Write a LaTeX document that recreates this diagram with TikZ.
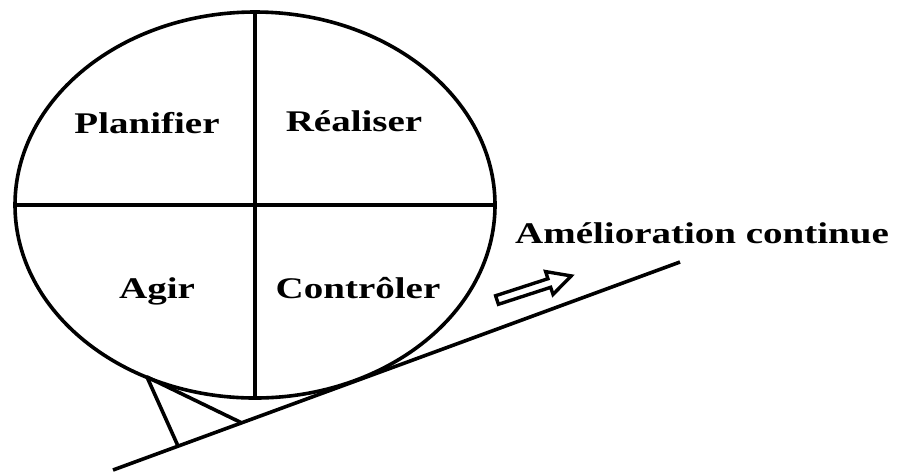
\documentclass[tikz,border=0pt]{standalone}
\usepackage{fontspec}
\setmainfont{Liberation Serif}[FakeStretch=1.3]
\usepackage{tikz}
\usetikzlibrary{shapes.geometric,calc}
\tikzset{
  stroke/.style={black,line width=1.8pt},
  wheelbox/.style={ellipse,draw,stroke,inner sep=0pt,
    minimum width=240pt,minimum height=193pt},
  phase/.style={font=\bfseries\fontsize{15}{18}\selectfont,anchor=base,inner sep=0pt},
  hollowarr/.style={stroke,line width=1.7pt,line join=miter},
}

\begin{document}
\begin{tikzpicture}[x=0.5pt,y=-0.5pt]
  \useasboundingbox (0,0) rectangle (897,473);
  % la roue PDCA
  \node[wheelbox] (wheel) at (255,205) {};
  \draw[stroke] (wheel.north) -- (wheel.south);
  \draw[stroke] (wheel.west) -- (wheel.east);
  \node[phase] (plan) at (147,133) {Planifier};
  \node[phase] (do) at (354,131) {Réaliser};
  \node[phase] (act) at (157,298) {Agir};
  \node[phase] (check) at (358,298) {Contrôler};
  % la pente
  \coordinate (lo) at (113,470);
  \coordinate (hi) at (680,262);
  \draw[stroke] (lo) -- (hi);
  % la cale
  \coordinate (wtop) at (147,377);
  \coordinate (wfoot) at (178,446);
  \coordinate (wtip) at (242,423);
  \draw[stroke,line join=round] (wfoot) -- (wtop) -- (wtip);
  % fleche creuse
  \begin{scope}[shift={(497,300)},rotate=18]
    \draw[hollowarr] (0,-4.5) -- (55,-4.5) -- (55,-12) -- (78,0) -- (55,12)
      -- (55,4.5) -- (0,4.5) -- cycle;
  \end{scope}
  \node[phase] (goal) at (702,243) {Amélioration continue};
\end{tikzpicture}
\end{document}
